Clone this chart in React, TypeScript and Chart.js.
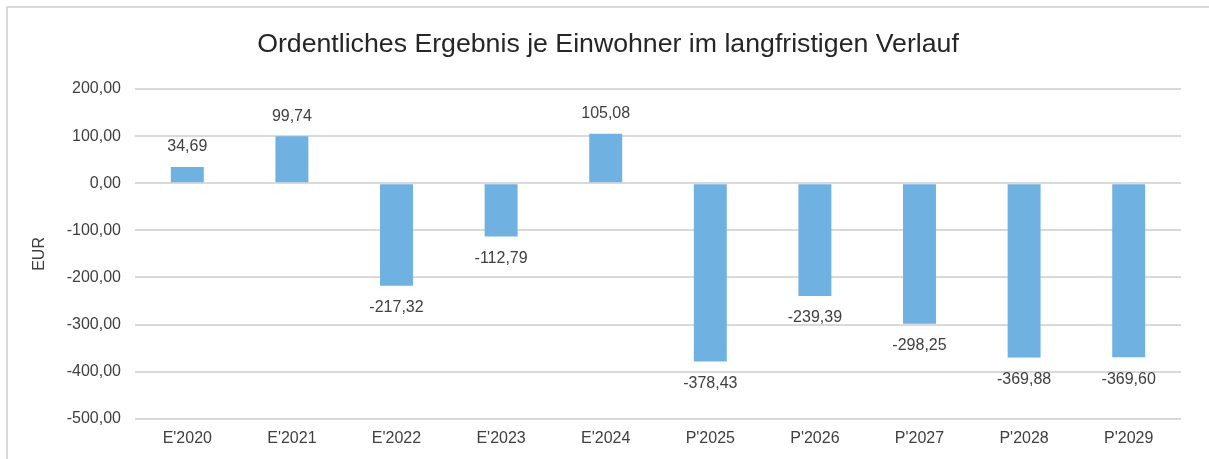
import React, { useEffect, useRef } from "react";
import { Chart, registerables } from "chart.js";

Chart.register(...registerables);

const categories = ["E'2020", "E'2021", "E'2022", "E'2023", "E'2024", "P'2025", "P'2026", "P'2027", "P'2028", "P'2029"];
const values = [34.69, 99.74, -217.32, -112.79, 105.08, -378.43, -239.39, -298.25, -369.88, -369.6];
const titleText = "Ordentliches Ergebnis je Einwohner im langfristigen Verlauf";
const yAxisTitle = "EUR";

const fmt = (v: number) => v.toFixed(2).replace(".", ",");

const FONT = "'Liberation Sans', Arial, sans-serif";
const TEXT = "#404040";
const TITLE_SIZE = 26.7;

const dataLabels = {
  id: "dataLabels",
  afterDatasetsDraw(chart: any) {
    const ctx = chart.ctx;
    const meta = chart.getDatasetMeta(0);
    ctx.save();
    ctx.font = `16px ${FONT}`;
    ctx.fillStyle = TEXT;
    ctx.textAlign = "center";
    ctx.textBaseline = "middle";
    meta.data.forEach((el: any, i: number) => {
      const v = values[i];
      const y = v >= 0 ? el.y - 20 : el.y + 22;
      ctx.fillText(fmt(v), el.x, y);
    });
    ctx.restore();
  },
};

const shiftedTitle = {
  id: "shiftedTitle",
  afterDraw(chart: any) {
    const tb = chart.titleBlock;
    if (!tb) return;
    const ctx = chart.ctx;
    ctx.save();
    ctx.font = `${TITLE_SIZE}px ${FONT}`;
    ctx.fillStyle = "#262626";
    ctx.textAlign = "center";
    ctx.textBaseline = "middle";
    const cy = tb.top + 15 + (TITLE_SIZE * 1.2) / 2;
    ctx.fillText(titleText, 608, cy);
    ctx.restore();
  },
};

export default function App() {
  const ref = useRef<HTMLCanvasElement>(null);
  useEffect(() => {
    if (!ref.current) return;
    const chart = new Chart(ref.current, {
      type: "bar",
      data: {
        labels: categories,
        datasets: [
          {
            data: values,
            backgroundColor: "#6FB1E1",
            borderWidth: 0,
            barPercentage: 0.63,
            categoryPercentage: 0.5,
          },
        ],
      },
      options: {
        responsive: false,
        animation: false,
        layout: { padding: { left: 20, right: 28, top: 14, bottom: 1 } },
        plugins: {
          legend: { display: false },
          tooltip: { enabled: false },
          title: {
            display: true,
            text: titleText,
            color: "rgba(0,0,0,0)",
            font: { family: FONT, size: TITLE_SIZE, weight: "normal" },
            padding: { top: 15, bottom: 28 },
          },
        },
        scales: {
          x: {
            grid: { display: false, drawTicks: false },
            border: { display: false },
            ticks: { color: TEXT, font: { family: FONT, size: 16 }, padding: 10, maxRotation: 0 },
          },
          y: {
            min: -500,
            max: 200,
            afterFit: (s: any) => {
              s.width = 115;
            },
            grid: { color: "#d9d9d9", lineWidth: 2, drawTicks: false },
            border: { display: false },
            title: {
              display: true,
              text: yAxisTitle,
              color: TEXT,
              font: { family: FONT, size: 16 },
              padding: { top: 10, bottom: 0 },
            },
            ticks: {
              stepSize: 100,
              color: TEXT,
              font: { family: FONT, size: 16 },
              padding: 14,
              callback: (v: any) => fmt(Number(v)),
            },
          },
        },
      },
      plugins: [dataLabels, shiftedTitle],
    });
    return () => chart.destroy();
  }, []);
  return (
    <div style={{ position: "fixed", left: 0, top: 0, width: 1209, height: 459, background: "#fff", overflow: "hidden" }}>
      <div
        style={{
          position: "absolute",
          left: 6,
          top: 6,
          width: 1220,
          height: 470,
          border: "2px solid #d9d9d9",
          boxSizing: "border-box",
        }}
      />
      <canvas ref={ref} width={1209} height={459} style={{ position: "absolute", left: 0, top: 0 }} />
    </div>
  );
}
